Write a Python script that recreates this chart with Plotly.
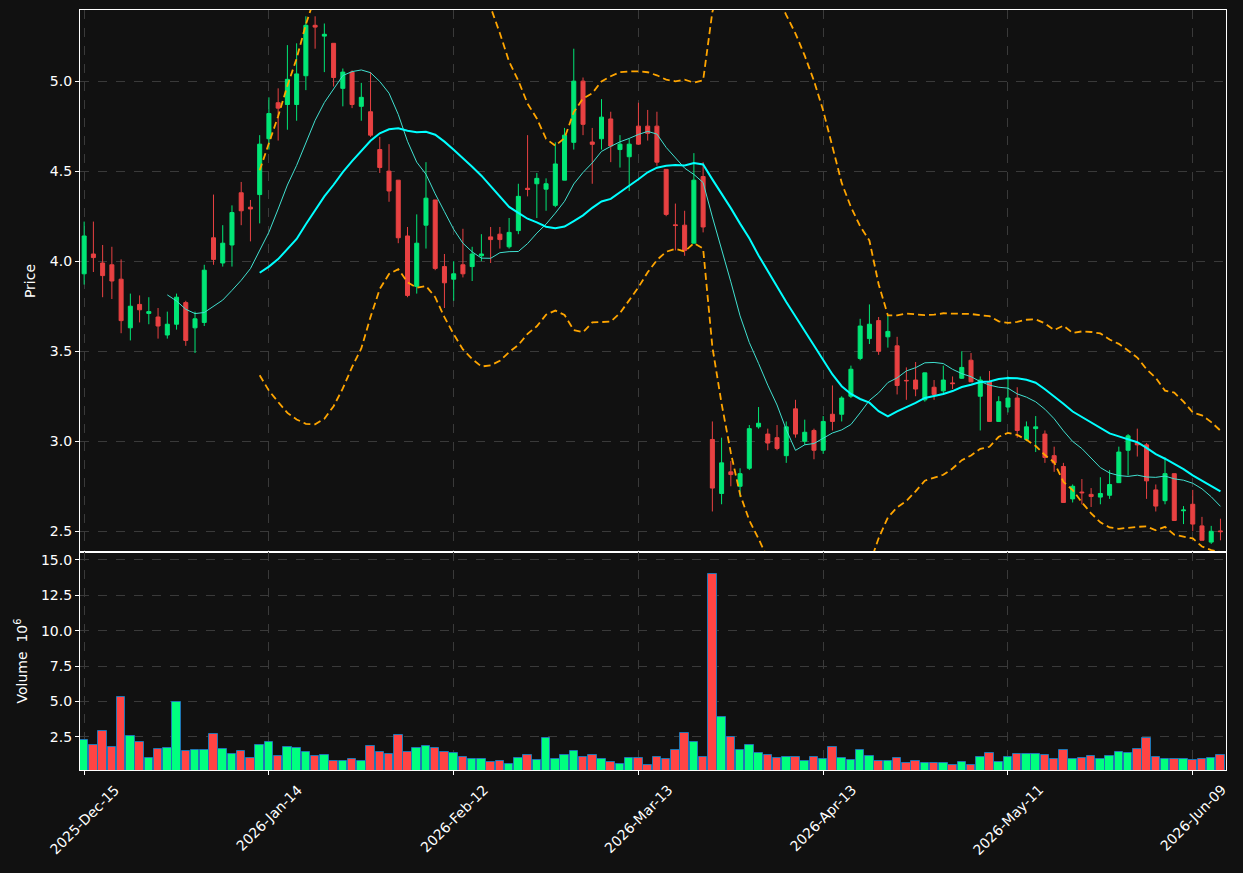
import pandas as pd
import plotly.graph_objects as go
from plotly.subplots import make_subplots

holidays = ["2025-12-25", "2026-01-01", "2026-01-19", "2026-02-16", "2026-04-03", "2026-05-25"]
dates = pd.bdate_range("2025-12-15", "2026-06-12", freq="C", holidays=holidays)

opens = [3.93, 4.04, 3.99, 3.98, 3.90, 3.63, 3.76, 3.71, 3.69, 3.59,
         3.65, 3.77, 3.63, 3.66, 4.13, 3.99, 4.09, 4.38, 4.30, 4.37,
         4.68, 4.88, 4.87, 4.87, 5.03, 5.31, 5.25, 5.21, 4.96, 5.05,
         4.86, 4.83, 4.62, 4.50, 4.45, 4.14, 3.86, 4.20, 4.34, 3.97,
         3.90, 3.98, 3.97, 4.03, 4.135, 4.15, 4.08, 4.17, 4.405, 4.43,
         4.40, 4.31, 4.45, 4.66, 5.00, 4.662, 4.68, 4.79, 4.62, 4.58,
         4.75, 4.75, 4.75, 4.51, 4.202, 4.20, 4.10, 4.47, 3.01, 2.71,
         2.83, 2.75, 2.85, 3.08, 3.04, 3.02, 2.92, 3.18, 3.00, 3.06,
         2.95, 3.15, 3.15, 3.25, 3.46, 3.57, 3.67, 3.58, 3.53, 3.338,
         3.34, 3.23, 3.30, 3.28, 3.324, 3.35, 3.45, 3.25, 3.33, 3.11,
         3.19, 3.24, 3.01, 3.07, 3.04, 2.92, 2.86, 2.68, 2.718, 2.705,
         2.69, 2.70, 2.77, 2.95, 2.99, 2.98, 2.73, 2.67, 2.82, 2.614,
         2.65, 2.53, 2.44, 2.502]
highs = [4.22, 4.22, 4.09, 4.08, 4.01, 3.82, 3.81, 3.80, 3.74, 3.72,
         3.82, 3.78, 3.72, 3.98, 4.37, 4.20, 4.31, 4.44, 4.34, 4.70,
         4.91, 4.96, 5.20, 5.21, 5.36, 5.36, 5.32, 5.21, 5.07, 5.06,
         4.99, 5.05, 4.69, 4.65, 4.45, 4.19, 4.26, 4.55, 4.34, 4.04,
         4.00, 4.18, 4.08, 4.15, 4.19, 4.19, 4.24, 4.43, 4.70, 4.49,
         4.46, 4.66, 4.74, 5.18, 5.02, 4.74, 4.90, 4.83, 4.70, 4.68,
         4.88, 4.84, 4.83, 4.51, 4.32, 4.28, 4.60, 4.55, 3.11, 3.02,
         2.89, 2.85, 3.09, 3.19, 3.07, 3.09, 3.11, 3.23, 3.12, 3.07,
         3.14, 3.31, 3.25, 3.42, 3.68, 3.76, 3.69, 3.70, 3.58, 3.41,
         3.44, 3.38, 3.34, 3.42, 3.36, 3.50, 3.49, 3.36, 3.39, 3.25,
         3.36, 3.30, 3.11, 3.14, 3.06, 2.97, 2.88, 2.76, 2.79, 2.74,
         2.80, 2.84, 2.97, 3.04, 3.07, 2.99, 2.76, 2.91, 2.82, 2.64,
         2.73, 2.58, 2.53, 2.57]
lows = [3.87, 3.94, 3.80, 3.79, 3.60, 3.56, 3.66, 3.65, 3.57, 3.57,
        3.62, 3.53, 3.49, 3.64, 3.98, 3.97, 3.97, 4.20, 4.11, 4.21,
        4.62, 4.67, 4.73, 4.78, 4.95, 5.18, 5.05, 4.97, 4.86, 4.85,
        4.78, 4.69, 4.49, 4.33, 4.10, 3.80, 3.82, 4.07, 3.95, 3.74,
        3.78, 3.91, 3.89, 4.00, 3.99, 4.07, 4.07, 4.15, 4.36, 4.24,
        4.28, 4.30, 4.45, 4.62, 4.70, 4.43, 4.62, 4.55, 4.52, 4.39,
        4.647, 4.67, 4.53, 4.25, 4.06, 4.03, 4.10, 4.16, 2.61, 2.65,
        2.75, 2.69, 2.84, 3.07, 2.95, 2.95, 2.88, 3.02, 2.98, 2.90,
        2.93, 3.06, 3.11, 3.24, 3.45, 3.54, 3.48, 3.52, 3.26, 3.23,
        3.25, 3.22, 3.23, 3.26, 3.29, 3.346, 3.33, 3.06, 3.114, 3.11,
        3.16, 3.02, 3.00, 2.94, 2.88, 2.83, 2.66, 2.66, 2.65, 2.635,
        2.65, 2.68, 2.774, 2.81, 2.915, 2.68, 2.61, 2.65, 2.56, 2.54,
        2.50, 2.45, 2.43, 2.45]
closes = [4.14, 4.02, 3.92, 3.89, 3.67, 3.75, 3.73, 3.72, 3.64, 3.65,
          3.80, 3.56, 3.68, 3.95, 4.01, 4.10, 4.27, 4.28, 4.29, 4.65,
          4.82, 4.85, 5.01, 5.04, 5.31, 5.30, 5.26, 5.02, 5.05, 4.87,
          4.91, 4.70, 4.52, 4.39, 4.13, 3.81, 4.10, 4.35, 3.96, 3.88,
          3.93, 3.93, 4.04, 4.04, 4.12, 4.12, 4.16, 4.36, 4.398, 4.46,
          4.43, 4.54, 4.70, 5.00, 4.76, 4.649, 4.80, 4.64, 4.65, 4.65,
          4.65, 4.71, 4.55, 4.26, 4.198, 4.06, 4.45, 4.19, 2.74, 2.88,
          2.815, 2.82, 3.07, 3.10, 2.99, 2.96, 3.08, 3.04, 3.05, 2.95,
          3.11, 3.11, 3.24, 3.40, 3.64, 3.65, 3.50, 3.61, 3.31, 3.336,
          3.29, 3.38, 3.26, 3.34, 3.320, 3.41, 3.33, 3.34, 3.11, 3.22,
          3.24, 3.06, 3.08, 3.08, 2.91, 2.88, 2.66, 2.75, 2.714, 2.693,
          2.71, 2.76, 2.94, 3.03, 2.98, 2.78, 2.64, 2.82, 2.56, 2.618,
          2.54, 2.45, 2.50, 2.498]
volume_m = [2.31, 1.91, 2.90, 1.77, 5.29, 2.55, 2.12, 0.98, 1.63, 1.70,
            4.94, 1.49, 1.56, 1.56, 2.69, 1.63, 1.28, 1.49, 0.98, 1.91,
            2.12, 1.14, 1.77, 1.70, 1.42, 1.14, 1.21, 0.83, 0.83, 0.93,
            0.79, 1.84, 1.42, 1.28, 2.62, 1.42, 1.70, 1.84, 1.70, 1.42,
            1.35, 1.07, 0.93, 0.93, 0.72, 0.79, 0.58, 1.00, 1.21, 0.86,
            2.41, 0.93, 1.21, 1.49, 1.07, 1.21, 0.93, 0.72, 0.58, 1.00,
            1.00, 0.51, 1.07, 0.93, 1.56, 2.76, 2.12, 1.07, 14.01, 3.88,
            2.48, 1.56, 1.91, 1.35, 1.21, 1.00, 1.07, 1.07, 0.79, 1.07,
            0.93, 1.77, 1.00, 0.86, 1.56, 1.14, 0.79, 0.79, 1.00, 0.65,
            0.79, 0.65, 0.65, 0.65, 0.51, 0.72, 0.51, 1.07, 1.35, 0.72,
            1.07, 1.28, 1.28, 1.28, 1.21, 0.93, 1.56, 0.93, 1.00, 1.14,
            0.93, 1.14, 1.42, 1.35, 1.63, 2.41, 1.07, 0.93, 0.93, 0.93,
            0.86, 0.93, 1.00, 1.21]

tick_positions = list(range(0, len(dates), 20))
tick_labels = [dates[i].strftime("%Y-%b-%d") for i in tick_positions]

BG = "#111111"
TXT = "#ffffff"
GRID = "#3a3a3a"
UP_C, DN_C = "#00e676", "#e84142"
UP_V, DN_V = "#00ff7f", "#ff4444"

idx = list(range(len(dates)))
close_s = pd.Series(closes)
ma10 = close_s.rolling(10).mean()
ma20 = close_s.rolling(20).mean()
std20 = close_s.rolling(20).std()
bb_up = ma20 + 2 * std20
bb_lo = ma20 - 2 * std20

fig = make_subplots(rows=2, cols=1, shared_xaxes=True, vertical_spacing=0,
                    row_heights=[542, 218])

fig.add_trace(go.Candlestick(
    x=idx, open=opens, high=highs, low=lows, close=closes,
    increasing=dict(line=dict(color=UP_C, width=1), fillcolor=UP_C),
    decreasing=dict(line=dict(color=DN_C, width=1), fillcolor=DN_C),
    whiskerwidth=0, showlegend=False, hoverinfo="skip"), row=1, col=1)

fig.add_trace(go.Scatter(x=idx, y=ma10, mode="lines",
                         line=dict(color="#40e0d0", width=1), showlegend=False), row=1, col=1)
fig.add_trace(go.Scatter(x=idx, y=ma20, mode="lines",
                         line=dict(color="#00ffff", width=2), showlegend=False), row=1, col=1)
fig.add_trace(go.Scatter(x=idx, y=bb_up, mode="lines",
                         line=dict(color="#ffa500", width=1.8, dash="7px,4px"), showlegend=False), row=1, col=1)
fig.add_trace(go.Scatter(x=idx, y=bb_lo, mode="lines",
                         line=dict(color="#ffa500", width=1.8, dash="7px,4px"), showlegend=False), row=1, col=1)

vol_colors = [UP_V if c >= o else DN_V for o, c in zip(opens, closes)]
fig.add_trace(go.Bar(x=idx, y=volume_m, width=0.92,
                     marker=dict(color=vol_colors, line=dict(color="#1f77b4", width=1)),
                     showlegend=False), row=2, col=1)

font = dict(family="DejaVu Sans", size=14, color=TXT)
fig.update_layout(
    width=1243, height=873,
    margin=dict(l=80, r=17, t=10, b=103),
    paper_bgcolor=BG, plot_bgcolor=BG,
    font=font, boxgap=0.38, bargap=0,
    xaxis_rangeslider_visible=False,
)

xcommon = dict(range=[-0.45, 123.6], tickvals=tick_positions, ticktext=tick_labels,
               showgrid=True, gridcolor=GRID, griddash="dash", gridwidth=1,
               showline=True, linecolor=TXT, linewidth=1.2, mirror=True,
               zeroline=False, showticklabels=False)
fig.update_xaxes(**xcommon)
fig.update_xaxes(ticks="", row=1, col=1)
fig.update_xaxes(ticks="outside", ticklen=4, tickcolor=TXT, row=2, col=1)

# rotated tick labels centred under their ticks (as in the reference)
for pos, lab in zip(tick_positions, tick_labels):
    fig.add_annotation(x=pos, xref="x2", y=0, yref="paper", text=lab,
                       textangle=-45, xanchor="center", yanchor="top",
                       yshift=-9, showarrow=False,
                       font=dict(family="DejaVu Sans", size=14, color=TXT))

ycommon = dict(showgrid=True, gridcolor=GRID, griddash="dash", gridwidth=1,
               showline=True, linecolor=TXT, linewidth=1.2, mirror=True,
               ticks="outside", ticklen=4, tickcolor=TXT, zeroline=False,
               tickformat=".1f")
fig.update_yaxes(**ycommon)
fig.update_yaxes(range=[2.385, 5.395], tickvals=[2.5, 3.0, 3.5, 4.0, 4.5, 5.0],
                 title=dict(text="Price", font=dict(size=14, color=TXT), standoff=10),
                 row=1, col=1)
fig.update_yaxes(range=[0.16, 15.55], tickvals=[2.5, 5.0, 7.5, 10.0, 12.5, 15.0],
                 title=dict(text="Volume  10<sup>6</sup>", font=dict(size=14, color=TXT), standoff=10),
                 row=2, col=1)

fig.write_html("out.html")
